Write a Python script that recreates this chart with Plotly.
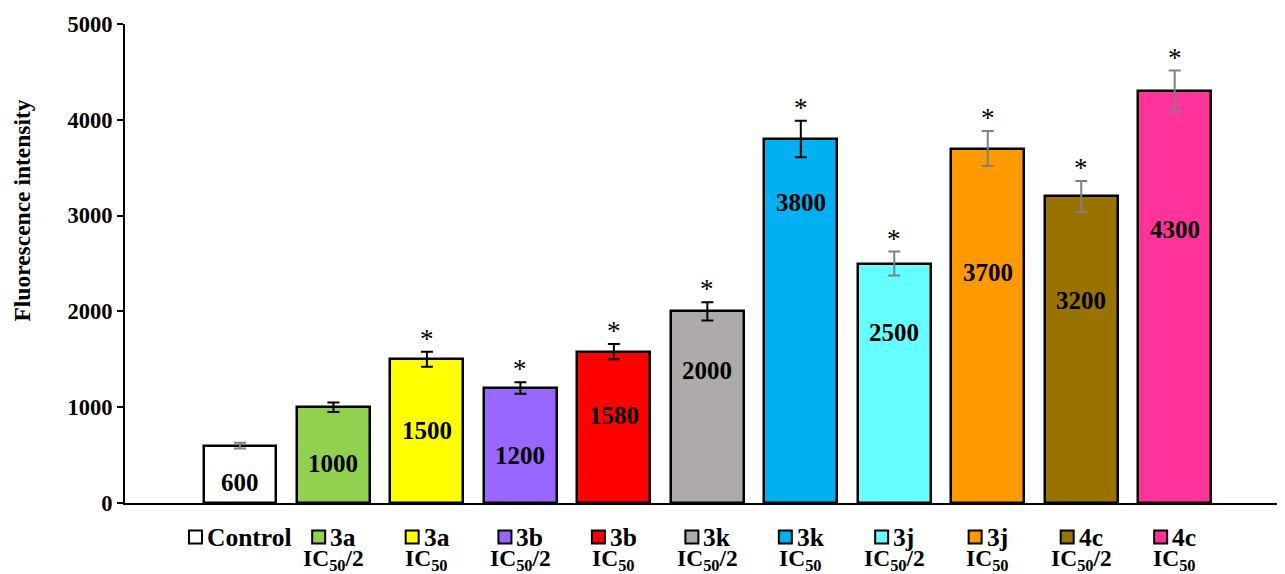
import plotly.graph_objects as go

# ---- data ----
compounds = ["Control", "3a", "3a", "3b", "3b", "3k", "3k", "3j", "3j", "4c", "4c"]
doses = ["", "IC<sub>50</sub>/2", "IC<sub>50</sub>", "IC<sub>50</sub>/2", "IC<sub>50</sub>",
         "IC<sub>50</sub>/2", "IC<sub>50</sub>", "IC<sub>50</sub>/2", "IC<sub>50</sub>",
         "IC<sub>50</sub>/2", "IC<sub>50</sub>"]
values = [600, 1000, 1500, 1200, 1580, 2000, 3800, 2500, 3700, 3200, 4300]
errors = [30, 50, 78, 60, 80, 95, 190, 125, 183, 162, 214]
significant = [False, False, True, True, True, True, True, True, True, True, True]
y_ticks = [0, 1000, 2000, 3000, 4000, 5000]

# ---- styles ----
colors = ["#ffffff", "#92d050", "#ffff00", "#9966ff", "#ff0000", "#aeaaaa",
          "#00b0f0", "#66ffff", "#ff9900", "#997300", "#ff3399"]
err_colors = ["#808080", "#000000", "#000000", "#000000", "#000000", "#000000",
              "#000000", "#808080", "#808080", "#808080", "#808080"]
label_y = [219, 417, 762, 501, 918, 1388, 3142, 1785, 2411, 2119, 2850]

FONT = "Liberation Serif"
x = list(range(len(values)))

fig = go.Figure()
for i in x:
    fig.add_trace(go.Bar(
        x=[i], y=[values[i]], width=0.78,
        marker=dict(color=colors[i], line=dict(color="black", width=2.5)),
        error_y=dict(type="data", array=[errors[i]], visible=True,
                     color=err_colors[i], thickness=2, width=6),
        showlegend=False, hoverinfo="skip",
    ))

annotations = []
shapes = []
# value labels
for i in x:
    annotations.append(dict(x=i, y=label_y[i], xref="x", yref="y", text=f"<b>{values[i]}</b>",
                            showarrow=False, font=dict(family=FONT, size=25, color="black"),
                            xanchor="center", yanchor="middle"))
# significance stars
for i in x:
    if significant[i]:
        annotations.append(dict(x=i, y=values[i] + errors[i], xref="x", yref="y", text="*",
                                showarrow=False, font=dict(family=FONT, size=27, color="black"),
                                xanchor="center", yanchor="bottom", yshift=-4))

# category labels (legend-key style)
cw = {"C": .722, "o": .5, "n": .556, "t": .333, "r": .444, "l": .278,
      "3": .5, "4": .5, "a": .5, "b": .556, "k": .556, "j": .333, "c": .444}
fs1, fs2 = 25.5, 23.5
row1, row2 = -0.071, -0.119
for i in x:
    tw = sum(cw.get(ch, .5) for ch in compounds[i]) * fs1
    start = -(17 + tw) / 2
    shapes.append(dict(type="rect", xref="x", yref="paper",
                       xsizemode="pixel", ysizemode="pixel",
                       xanchor=i, yanchor=row1,
                       x0=start, x1=start + 13, y0=-6.5, y1=6.5,
                       fillcolor=colors[i], line=dict(color="black", width=2)))
    annotations.append(dict(x=i, y=row1, xref="x", yref="paper", text=f"<b>{compounds[i]}</b>",
                            showarrow=False, font=dict(family=FONT, size=fs1, color="black"),
                            xanchor="left", yanchor="middle", xshift=start + 16))
    if doses[i]:
        annotations.append(dict(x=i, y=row2, xref="x", yref="paper", text=f"<b>{doses[i]}</b>",
                                showarrow=False, font=dict(family=FONT, size=fs2, color="black"),
                                xanchor="center", yanchor="middle"))

# y axis title
annotations.append(dict(x=-0.089, y=0.61, xref="paper", yref="paper",
                        text="<b>Fluorescence intensity</b>", textangle=-90, showarrow=False,
                        font=dict(family=FONT, size=23.5, color="black"),
                        xanchor="center", yanchor="middle"))

fig.update_layout(
    width=1277, height=566,
    margin=dict(l=117, r=0, t=16, b=71),
    paper_bgcolor="white", plot_bgcolor="white",
    annotations=annotations,
    shapes=shapes,
    bargap=0,
    xaxis=dict(range=[-1.23, 11.18], showticklabels=False, ticks="", showgrid=False,
               zeroline=False, showline=True, linecolor="black", linewidth=2),
    yaxis=dict(range=[0, 5000], tickvals=y_ticks, ticktext=[f"<b>{v}</b>" for v in y_ticks],
               showgrid=False, zeroline=False, showline=True, linecolor="black", linewidth=2,
               ticks="outside", ticklen=6, tickwidth=2, tickcolor="black",
               tickfont=dict(family=FONT, size=22.5, color="black")),
)

fig.write_html("out.html")
